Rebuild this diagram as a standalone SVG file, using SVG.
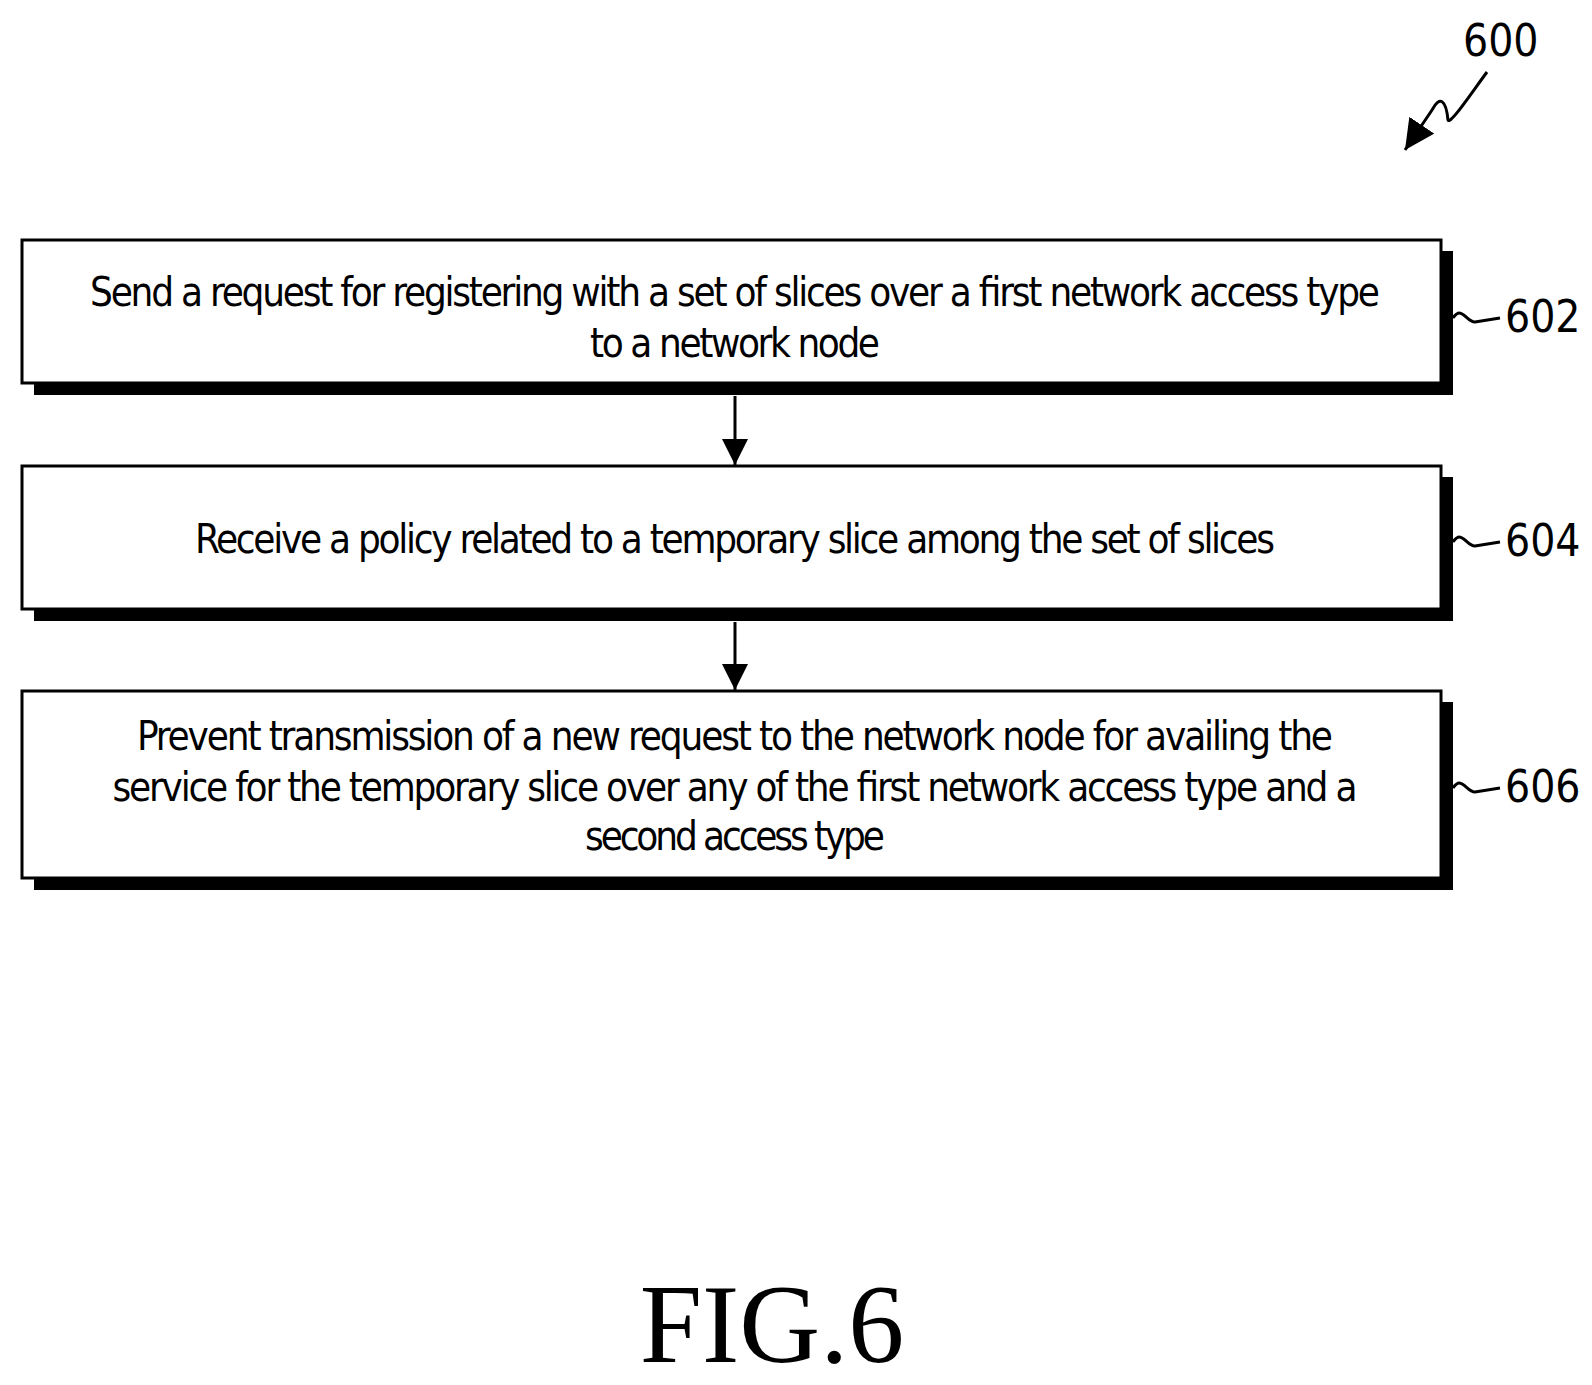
<svg xmlns="http://www.w3.org/2000/svg" width="1592" height="1385" viewBox="0 0 1592 1385">
<defs>
<style>
.box{fill:#fff;stroke:#000;stroke-width:3}
.sh{fill:#000}
.t{font-family:"DejaVu Sans Condensed","Liberation Sans",sans-serif;font-size:40px;text-anchor:middle;fill:#000}
.lbl{font-family:"DejaVu Sans Condensed","Liberation Sans",sans-serif;font-size:44px;fill:#000}
.ln{fill:none;stroke:#000;stroke-width:3}
</style>
<marker id="ah" viewBox="0 0 10 10" refX="10" refY="5" markerWidth="30" markerHeight="26" markerUnits="userSpaceOnUse" orient="auto"><path d="M0,0 L10,5 L0,10 z" fill="#000"/></marker>
<marker id="ah2" viewBox="0 0 10 10" refX="10" refY="5" markerWidth="10" markerHeight="10" markerUnits="strokeWidth" orient="auto"><path d="M0,0 L10,5 L0,10 z" fill="#000"/></marker>
</defs>
<rect width="1592" height="1385" fill="#fff"/>
<g id="ref600">
<text class="lbl" x="1463" y="56">600</text>
<path class="ln" d="M1487,72 C1470,95 1450,125 1448,120 C1446,100 1440,95 1432,110 L1405,150" marker-end="url(#ah2)"/>
</g>
<g id="n602">
<rect class="sh" x="34" y="251" width="1419" height="144"/>
<rect class="box" x="22" y="240" width="1419" height="143"/>
<text class="t" x="735" y="306" textLength="1290">Send a request for registering with a set of slices over a first network access type</text>
<text class="t" x="735" y="357" textLength="290">to a network node</text>
<path class="ln" d="M1453,318 C1462,305 1466,322 1475,322 L1500,318"/>
<text class="lbl" x="1505" y="332">602</text>
</g>
<g id="n604">
<rect class="sh" x="34" y="477" width="1419" height="144"/>
<rect class="box" x="22" y="466" width="1419" height="143"/>
<text class="t" x="735" y="553" textLength="1080">Receive a policy related to a temporary slice among the set of slices</text>
<path class="ln" d="M1453,542 C1462,529 1466,546 1475,546 L1500,542"/>
<text class="lbl" x="1505" y="556">604</text>
</g>
<g id="n606">
<rect class="sh" x="34" y="702" width="1419" height="188"/>
<rect class="box" x="22" y="691" width="1419" height="187"/>
<text class="t" x="735" y="750" textLength="1196">Prevent transmission of a new request to the network node for availing the</text>
<text class="t" x="735" y="801" textLength="1245">service for the temporary slice over any of the first network access type and a</text>
<text class="t" x="735" y="850" textLength="300">second access type</text>
<path class="ln" d="M1453,788 C1462,775 1466,792 1475,792 L1500,788"/>
<text class="lbl" x="1505" y="802">606</text>
</g>
<g id="connectors">
<line class="ln" x1="735" y1="396" x2="735" y2="465" marker-end="url(#ah)"/>
<line class="ln" x1="735" y1="622" x2="735" y2="690" marker-end="url(#ah)"/>
</g>
<text x="772" y="1362" font-family="Liberation Serif,serif" font-size="112" text-anchor="middle">FIG.6</text>
</svg>
